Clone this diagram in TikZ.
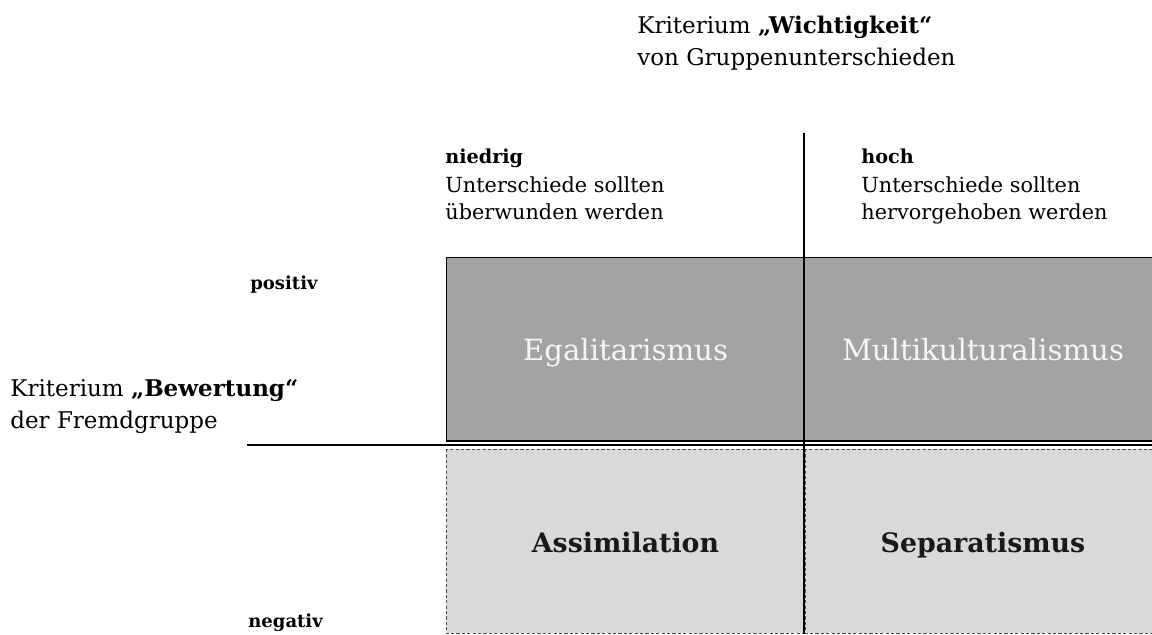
\documentclass[tikz,border=0pt]{standalone}
\usepackage{fontspec}
\setmainfont{DejaVu Serif}
\begin{document}
\begin{tikzpicture}[x=0.5pt,y=-0.5pt,
  darkfield/.style={fill=fieldDark,draw=black,line width=0.6pt},
  lightfield/.style={fill=fieldLight,draw=black!70,line width=0.5pt,dash pattern=on 1.6pt off 1.1pt},
  axisline/.style={draw=black,line width=0.65pt},
  crit/.style={anchor=base west,inner sep=0pt,font=\fontsize{11.5}{16}\selectfont},
  head/.style={anchor=base west,inner sep=0pt,font=\fontsize{10.4}{13.75}\selectfont},
  headbold/.style={anchor=base west,inner sep=0pt,font=\fontsize{9.6}{13.75}\selectfont\bfseries},
  pole/.style={anchor=base west,inner sep=0pt,font=\fontsize{9}{13.75}\selectfont\bfseries},
  bigwhite/.style={anchor=base,inner sep=0pt,text=white!96!black,font=\fontsize{14.6}{20}\selectfont},
  bigdark/.style={anchor=base,inner sep=0pt,text=black!90,font=\fontsize{13.4}{20}\selectfont\bfseries}]
\definecolor{fieldDark}{HTML}{A3A3A3}
\definecolor{fieldLight}{HTML}{D9D9D9}
\useasboundingbox (0,0) rectangle (1152,634);

% four fields of the matrix
\path[darkfield]  (446.5,257.5) rectangle (804,441);
\path[darkfield]  (804,257.5) rectangle (1162,441);
\path[lightfield] (446,449) rectangle (803,633);
\path[lightfield] (805,449) rectangle (1162,633);

% axes
\coordinate (vtop) at (804,133);
\coordinate (vbot) at (804,634);
\coordinate (hleft) at (247,445);
\coordinate (hright) at (1152,445);
\draw[axisline] (vtop) -- (vbot);
\draw[axisline] (hleft) -- (hright);

% criterion labels
\node[crit] (wk1) at (637,33) {Kriterium \textbf{„Wichtigkeit“}};
\node[crit] (wk2) at (637,65) {von Gruppenunterschieden};
\node[crit] (bw1) at (10,396.5) {Kriterium \textbf{„Bewertung“}};
\node[crit] (bw2) at (10,428) {der Fremdgruppe};

% column headings
\node[headbold] (nd1) at (445,163) {niedrig};
\node[head] (nd2) at (445,192.3) {Unterschiede sollten};
\node[head] (nd3) at (445,219) {überwunden werden};
\node[headbold] (hc1) at (861,163) {hoch};
\node[head] (hc2) at (861,192.3) {Unterschiede sollten};
\node[head] (hc3) at (861,219) {hervorgehoben werden};

% row headings
\node[pole] (pos) at (250,289) {positiv};
\node[pole] (neg) at (248,627) {negativ};

% field names
\node[bigwhite] (ega) at (625.5,360.5) {Egalitarismus};
\node[bigwhite] (mul) at (983,360.5) {Multikulturalismus};
\node[bigdark]  (ass) at (625.5,552.5) {Assimilation};
\node[bigdark]  (sep) at (983,552.5) {Separatismus};
\end{tikzpicture}
\end{document}
